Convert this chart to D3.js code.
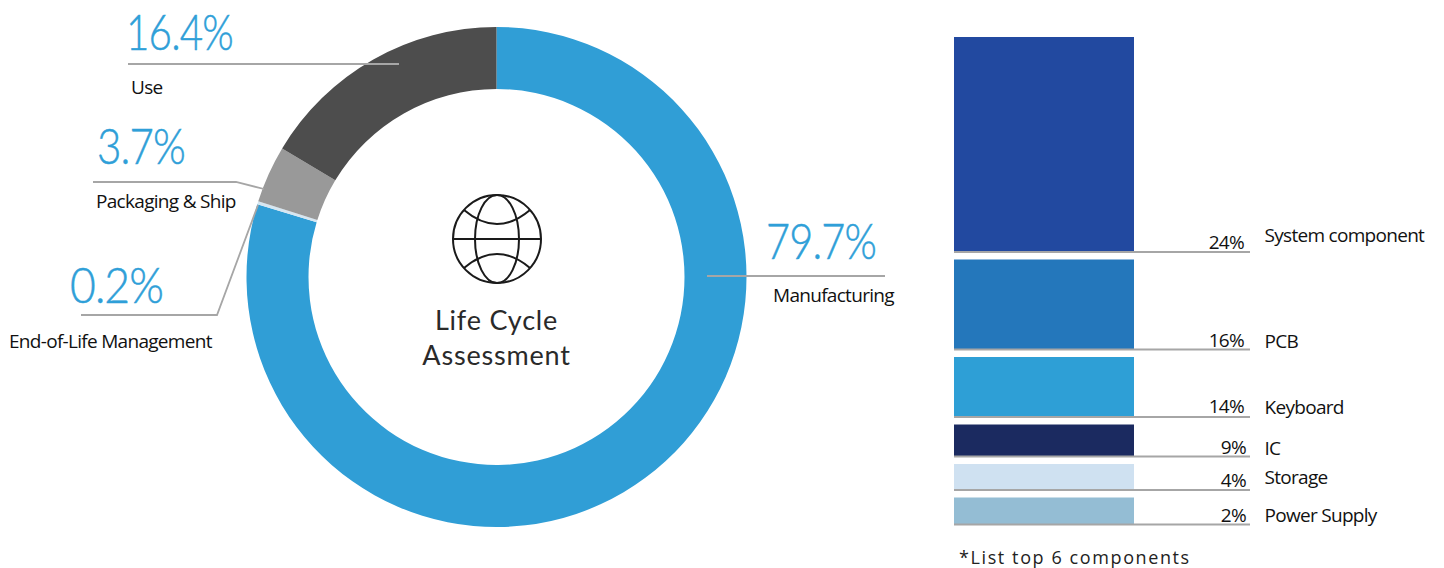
<!DOCTYPE html>
<html>
<head>
<meta charset="utf-8">
<script src="https://cdn.jsdelivr.net/npm/d3@7"></script>
<style>
  html, body { margin: 0; padding: 0; background: #fff; }
  svg { display: block; }
  .pct { font-family: Lato, sans-serif; font-weight: 300; font-size: 49px; fill: #2f9fd8; stroke: #2f9fd8; stroke-width: 0.5px; letter-spacing: -1px; }
  .lbl { font-family: "Open Sans", sans-serif; font-size: 19px; fill: #111; letter-spacing: -0.7px; }
  .center { font-family: Lato, sans-serif; font-weight: 400; font-size: 27px; fill: #2a2a2a; text-anchor: middle; letter-spacing: 0.8px; }
  .note { font-family: "Open Sans", sans-serif; font-size: 18px; fill: #222; letter-spacing: 1.6px; }
</style>
</head>
<body>
<svg id="drawing_region"></svg>
<script>
// life cycle shares, clockwise from 12 o'clock
const stages = ['Manufacturing', 'End-of-Life Management', 'Packaging & Ship', 'Use'];
const stageValues = [79.7, 0.2, 3.7, 16.4];
const stageColors = ['#309ed6', '#d6e6f1', '#999999', '#4d4d4d'];

// top 6 components
const components = ['System component', 'PCB', 'Keyboard', 'IC', 'Storage', 'Power Supply'];
const componentValues = [24, 16, 14, 9, 4, 2];
const componentColors = ['#2249a0', '#2477bb', '#2e9fd6', '#1b2a60', '#cfe1f1', '#94bdd4'];

const width = 1444, height = 568;
const svg = d3.select('#drawing_region').attr('width', width).attr('height', height);

// ---- donut ----
const cx = 496.5, cy = 277;
const pie = d3.pie().sort(null).value(d => d);
const arc = d3.arc().innerRadius(188).outerRadius(250);
const donut = svg.append('g').attr('transform', `translate(${cx},${cy})`);

donut.selectAll('path')
    .data(pie(stageValues))
    .join('path')
    .attr('d', arc)
    .attr('fill', (d, i) => stageColors[i]);

// callouts: where the percent, rule and name of each stage sit
const callouts = [
    { pct: [766, 259], pctWidth: 110, name: [773, 302], rule: [[885, 276], [707, 276]] },
    { pct: [70, 303], pctWidth: 93, name: [9, 348], rule: [[81, 315], [217, 315], [258, 205]] },
    { pct: [97, 164], pctWidth: 88, name: [96, 208], rule: [[93, 182], [236, 182], [264, 189]] },
    { pct: [126, 50], pctWidth: 107, name: [131, 94], rule: [[128, 64], [399, 64]] }
];
const line = d3.line();

svg.append('g').selectAll('path')
    .data(callouts)
    .join('path')
    .attr('d', d => line(d.rule))
    .attr('fill', 'none')
    .attr('stroke', '#a6a6a6')
    .attr('stroke-width', 1.8);

// the original numerals are narrower than Lato, so squeeze them a little
svg.append('g').selectAll('text')
    .data(callouts)
    .join('text')
    .attr('class', 'pct')
    .attr('x', d => d.pct[0])
    .attr('y', d => d.pct[1])
    .attr('textLength', d => d.pctWidth)
    .attr('lengthAdjust', 'spacingAndGlyphs')
    .text((d, i) => stageValues[i].toFixed(1) + '%');

svg.append('g').selectAll('text')
    .data(callouts)
    .join('text')
    .attr('class', 'lbl')
    .attr('x', d => d.name[0])
    .attr('y', d => d.name[1])
    .text((d, i) => stages[i]);

// ---- globe + centre title ----
const globe = svg.append('g')
    .attr('transform', `translate(${cx + 0.5},239)`)
    .attr('fill', 'none')
    .attr('stroke', '#1a1a1a')
    .attr('stroke-width', 2);
globe.append('circle').attr('r', 44);
globe.append('ellipse').attr('rx', 22).attr('ry', 44);
globe.append('path').attr('d', 'M-44,0H44');
globe.append('path').attr('d', 'M-33,-29Q0,-1 33,-29');
globe.append('path').attr('d', 'M-33,29Q0,1 33,29');

svg.append('text').attr('class', 'center').attr('x', cx).attr('y', 330).text('Life Cycle');
svg.append('text').attr('class', 'center').attr('x', cx).attr('y', 365).text('Assessment');

// ---- component stack ----
// the bars in the picture are not proportional, so the height scale is piecewise
const barHeight = d3.scaleLinear()
    .domain([2, 4, 9, 14, 16, 24])
    .range([27, 26, 32, 60, 90, 215]);
const barX = d3.scaleLinear().domain([0, 1]).range([954, 1134]);
const gap = 7.5;

let nextY = 37;
const rows = components.map((name, i) => {
    const h = barHeight(componentValues[i]);
    const row = { name, value: componentValues[i], color: componentColors[i], y: nextY, h };
    nextY += h + gap;
    return row;
});

const stack = svg.append('g');
stack.selectAll('rect')
    .data(rows)
    .join('rect')
    .attr('x', barX(0))
    .attr('width', barX(1) - barX(0))
    .attr('y', d => d.y)
    .attr('height', d => d.h)
    .attr('fill', d => d.color);

stack.selectAll('line')
    .data(rows)
    .join('line')
    .attr('x1', barX(0))
    .attr('x2', 1250)
    .attr('y1', d => d.y + d.h)
    .attr('y2', d => d.y + d.h)
    .attr('stroke', '#a6a6a6')
    .attr('stroke-width', 1.8);

// baseline offsets of the value and name above each rule
const valueLift = [3, 3, 4, 3, 3, 3];
const nameLift = [10, 2, 3, 2, 6, 3];

stack.selectAll('text.val')
    .data(rows)
    .join('text')
    .attr('class', 'lbl val')
    .attr('x', d => d.value < 10 ? 1246 : 1244)
    .attr('y', (d, i) => d.y + d.h - valueLift[i])
    .attr('text-anchor', 'end')
    .text(d => d.value + '%');

stack.selectAll('text.name')
    .data(rows)
    .join('text')
    .attr('class', 'lbl name')
    .attr('x', 1264.5)
    .attr('y', (d, i) => d.y + d.h - nameLift[i])
    .text(d => d.name);

svg.append('text').attr('class', 'note').attr('x', 959).attr('y', 564).text('*List top 6 components');
</script>
</body>
</html>
